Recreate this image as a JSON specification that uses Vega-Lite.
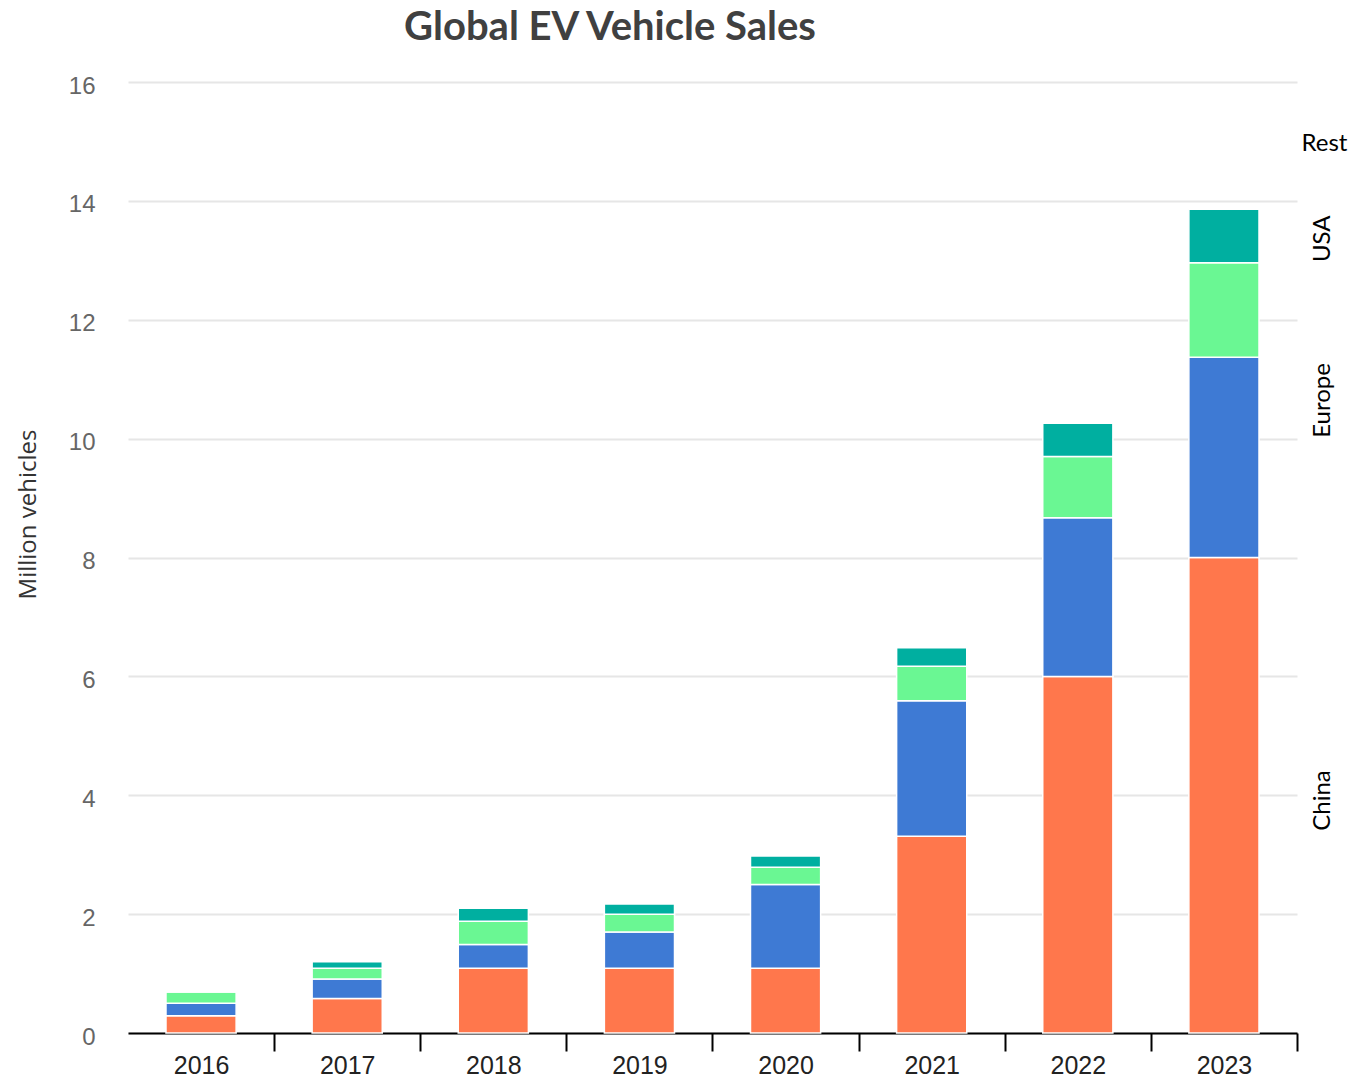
{
  "$schema": "https://vega.github.io/schema/vega-lite/v6.json",
  "autosize": {"type": "none"},
  "padding": {"left": 128, "top": 82, "right": 54, "bottom": 45},
  "width": 1169,
  "height": 951,
  "background": "white",
  "title": {
    "text": "Global EV Vehicle Sales",
    "anchor": "start",
    "dx": 388,
    "font": "Lato",
    "fontSize": 40,
    "fontWeight": "bold",
    "color": "#404040",
    "offset": 26
  },
  "data": {
    "values": [
      {"year": "2016", "region": "China", "rank": 1, "sales": 0.29},
      {"year": "2016", "region": "Europe", "rank": 2, "sales": 0.21},
      {"year": "2016", "region": "USA", "rank": 3, "sales": 0.19},
      {"year": "2016", "region": "Rest", "rank": 4, "sales": 0.0},
      {"year": "2017", "region": "China", "rank": 1, "sales": 0.58},
      {"year": "2017", "region": "Europe", "rank": 2, "sales": 0.33},
      {"year": "2017", "region": "USA", "rank": 3, "sales": 0.18},
      {"year": "2017", "region": "Rest", "rank": 4, "sales": 0.11},
      {"year": "2018", "region": "China", "rank": 1, "sales": 1.09},
      {"year": "2018", "region": "Europe", "rank": 2, "sales": 0.4},
      {"year": "2018", "region": "USA", "rank": 3, "sales": 0.39},
      {"year": "2018", "region": "Rest", "rank": 4, "sales": 0.22},
      {"year": "2019", "region": "China", "rank": 1, "sales": 1.09},
      {"year": "2019", "region": "Europe", "rank": 2, "sales": 0.61},
      {"year": "2019", "region": "USA", "rank": 3, "sales": 0.3},
      {"year": "2019", "region": "Rest", "rank": 4, "sales": 0.17},
      {"year": "2020", "region": "China", "rank": 1, "sales": 1.09},
      {"year": "2020", "region": "Europe", "rank": 2, "sales": 1.41},
      {"year": "2020", "region": "USA", "rank": 3, "sales": 0.29},
      {"year": "2020", "region": "Rest", "rank": 4, "sales": 0.19},
      {"year": "2021", "region": "China", "rank": 1, "sales": 3.31},
      {"year": "2021", "region": "Europe", "rank": 2, "sales": 2.28},
      {"year": "2021", "region": "USA", "rank": 3, "sales": 0.58},
      {"year": "2021", "region": "Rest", "rank": 4, "sales": 0.31},
      {"year": "2022", "region": "China", "rank": 1, "sales": 6.0},
      {"year": "2022", "region": "Europe", "rank": 2, "sales": 2.67},
      {"year": "2022", "region": "USA", "rank": 3, "sales": 1.03},
      {"year": "2022", "region": "Rest", "rank": 4, "sales": 0.56},
      {"year": "2023", "region": "China", "rank": 1, "sales": 8.0},
      {"year": "2023", "region": "Europe", "rank": 2, "sales": 3.37},
      {"year": "2023", "region": "USA", "rank": 3, "sales": 1.59},
      {"year": "2023", "region": "Rest", "rank": 4, "sales": 0.9}
    ]
  },
  "layer": [
    {
      "mark": {"type": "bar", "stroke": "white", "strokeWidth": 1.5},
      "encoding": {
        "x": {
          "field": "year",
          "type": "ordinal",
          "scale": {"paddingInner": 0.52, "paddingOuter": 0.26},
          "axis": {
            "title": null,
            "labelAngle": 0,
            "labelFont": "Liberation Sans",
            "labelFontSize": 25,
            "labelColor": "#222222",
            "labelPadding": 2,
            "labelOffset": -73,
            "domainColor": "#000000",
            "domainWidth": 2,
            "tickColor": "#000000",
            "tickWidth": 2,
            "tickSize": 18,
            "tickOffset": 73,
            "grid": false
          }
        },
        "y": {
          "field": "sales",
          "type": "quantitative",
          "stack": "zero",
          "scale": {"domain": [0, 16], "nice": false},
          "axis": {
            "title": "Million vehicles",
            "values": [0, 2, 4, 6, 8, 10, 12, 14, 16],
            "grid": true,
            "gridColor": "#e6e6e6",
            "gridWidth": 2,
            "domain": false,
            "ticks": false,
            "labelPadding": 33,
            "labelOffset": 4,
            "labelFont": "Liberation Sans",
            "labelFontSize": 24,
            "labelColor": "#666666",
            "titleFont": "Open Sans",
            "titleFontSize": 24,
            "titleFontWeight": "normal",
            "titleColor": "#333333",
            "titleX": -88,
            "titleY": 432
          }
        },
        "color": {
          "field": "region",
          "type": "nominal",
          "scale": {
            "domain": ["China", "Europe", "USA", "Rest"],
            "range": ["#FF774C", "#3E7AD4", "#6AF793", "#00AFA0"]
          },
          "legend": null
        },
        "order": {"field": "rank", "type": "quantitative", "sort": "ascending"}
      }
    },
    {
      "mark": {"type": "point", "opacity": 0},
      "encoding": {
        "y": {
          "field": "sales",
          "type": "quantitative",
          "axis": {
            "orient": "right",
            "values": [3.92, 10.65, 13.37],
            "labelExpr": "datum.value < 5 ? 'China' : datum.value < 12 ? 'Europe' : 'USA'",
            "labelAngle": -90,
            "labelAlign": "center",
            "labelBaseline": "top",
            "labelPadding": 13,
            "ticks": false,
            "domain": false,
            "grid": false,
            "labelFont": "Lato",
            "labelFontSize": 24,
            "labelColor": "#000000",
            "title": "Rest",
            "titleAngle": 0,
            "titleX": 4,
            "titleY": 61,
            "titleAlign": "left",
            "titleBaseline": "middle",
            "titleFont": "Lato",
            "titleFontSize": 24,
            "titleFontWeight": "normal",
            "titleColor": "#000000"
          }
        }
      }
    }
  ],
  "resolve": {"axis": {"y": "independent"}},
  "config": {"view": {"stroke": null}}
}
